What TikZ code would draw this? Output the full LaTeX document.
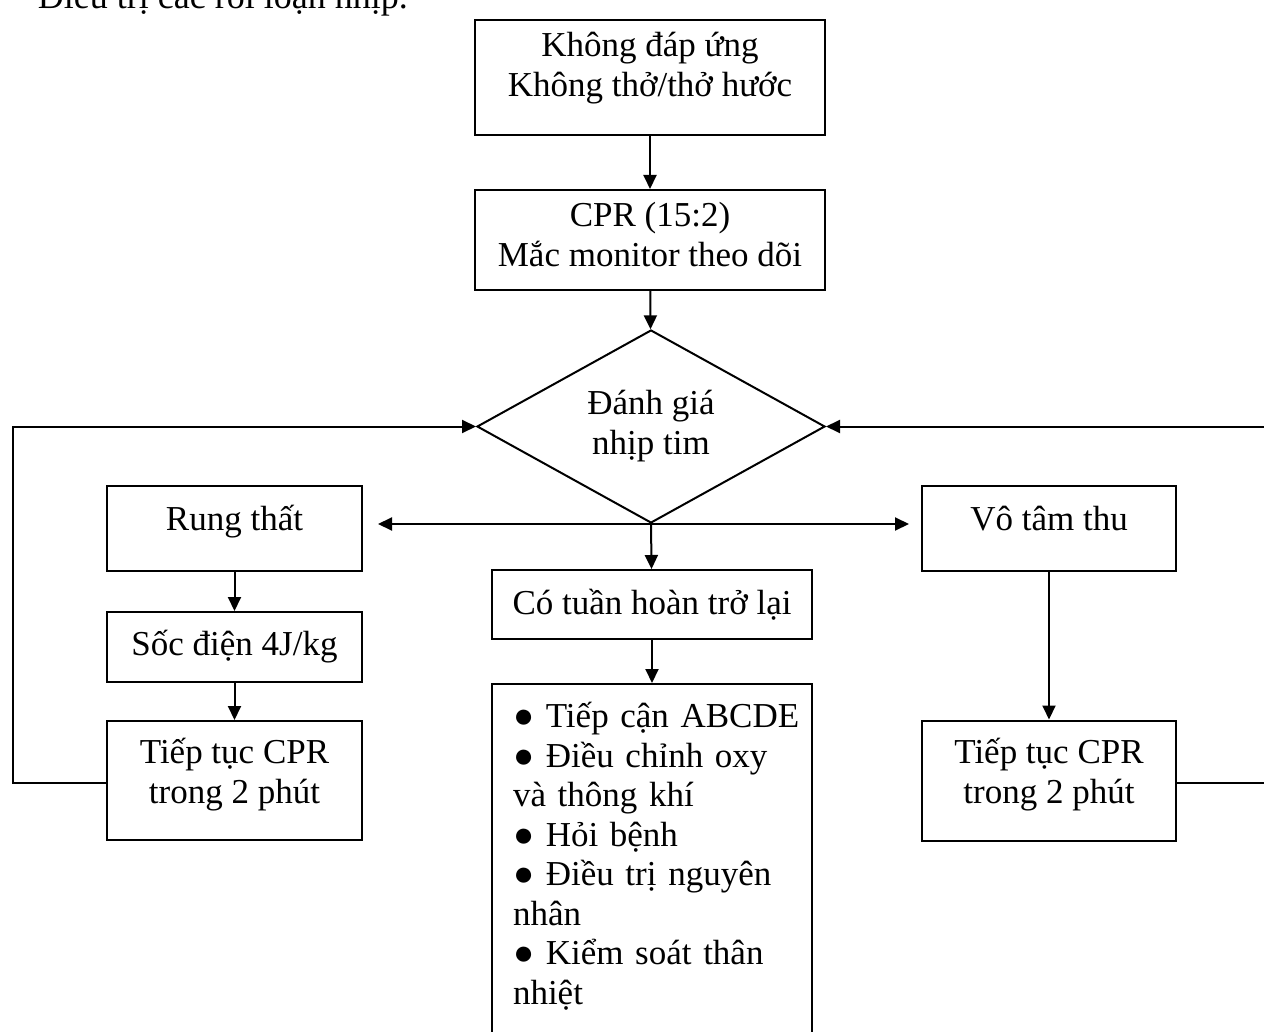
\documentclass[tikz,border=0pt]{standalone}
\usepackage{fontspec}
\setmainfont{Liberation Serif}
\usetikzlibrary{shapes.geometric,arrows.meta,positioning}
\newcommand{\lift}[2]{\raisebox{#1}[\height][\depth]{\begin{tabular}{@{}c@{}}#2\end{tabular}}}

\begin{document}
\begin{tikzpicture}[x=0.5pt,y=-0.5pt,line width=1pt]
\useasboundingbox (0,0) rectangle (1264,1032);
\clip (0,0) rectangle (1264,1032);

\tikzstyle{txt}=[font=\fontsize{17.5pt}{20pt}\selectfont]
\tikzstyle{box}=[txt,rectangle,draw=black,align=center,inner sep=0pt]
\tikzstyle{arr}=[-{Triangle[length=7pt,width=6.5pt]}]

\node[font=\fontsize{18pt}{20pt}\selectfont,anchor=base west,inner sep=0pt] (title) at (37,9) {Điều trị các rối loạn nhịp.};

\node (resp) at (650,77.5) [box,minimum width=175pt,minimum height=57.5pt] {\lift{4.5pt}{Không đáp ứng\\Không thở/thở hước}};
\node (cpr) at (650,240) [box,minimum width=175pt,minimum height=50pt] {\lift{0.5pt}{CPR (15:2)\\Mắc monitor theo dõi}};
\node (eval) at (651,426.5) [txt,diamond,draw=black,aspect=1.8,inner sep=0pt,minimum width=174pt,minimum height=96.5pt,align=center] {Đánh giá\\nhịp tim};

% left branch
\node (vf) at (234.5,528.5) [box,minimum width=127.5pt,minimum height=42.5pt] {\lift{3pt}{Rung thất}};
\node (shock) at (234.5,647) [box,minimum width=127.5pt,minimum height=35pt] {Sốc điện 4J/kg};
\node (cprl) at (234.5,780.5) [box,minimum width=127.5pt,minimum height=59.5pt] {\lift{2.5pt}{Tiếp tục CPR\\trong 2 phút}};

% middle
\node (rosc) at (652,604.5) [box,minimum width=160pt,minimum height=34.5pt] {Có tuần hoàn trở lại};
\node (care) at (652,683) [font=\fontsize{17.5pt}{19.75pt}\selectfont,draw=black,anchor=north,text width=139pt,inner xsep=10.5pt,inner ysep=8pt] {\begin{tabular}{@{}l@{}}● Tiếp cận ABCDE\\● Điều chỉnh oxy\\và thông khí\\● Hỏi bệnh\\● Điều trị nguyên\\nhân\\● Kiểm soát thân\\nhiệt\\ \\ \end{tabular}};

% right branch
\node (asys) at (1049,528.5) [box,minimum width=127pt,minimum height=42.5pt] {\lift{3pt}{Vô tâm thu}};
\node (cprr) at (1049,780.5) [box,minimum width=127pt,minimum height=60pt] {\lift{2.5pt}{Tiếp tục CPR\\trong 2 phút}};

\coordinate (lc) at (13,783);
\coordinate (rc) at (1270,783);

\draw[arr] (resp) -- (cpr);
\draw[arr] (cpr) -- (eval);
\draw[arr,shorten >=7.5pt] (eval.south) -- (eval.south -| vf.east);
\draw[arr,shorten >=6pt] (eval.south) -- (eval.south -| asys.west);
\draw[arr] (eval.south) -- (rosc);
\draw[arr] (vf) -- (shock);
\draw[arr] (shock) -- (cprl);
\draw[arr] (rosc) -- (care);
\draw[arr] (asys) -- (cprr);
\draw[arr] (cprl.west |- lc) -- (lc) |- (eval.west);
\draw[arr] (cprr.east |- rc) -- (rc) |- (eval.east);

\end{tikzpicture}
\end{document}
